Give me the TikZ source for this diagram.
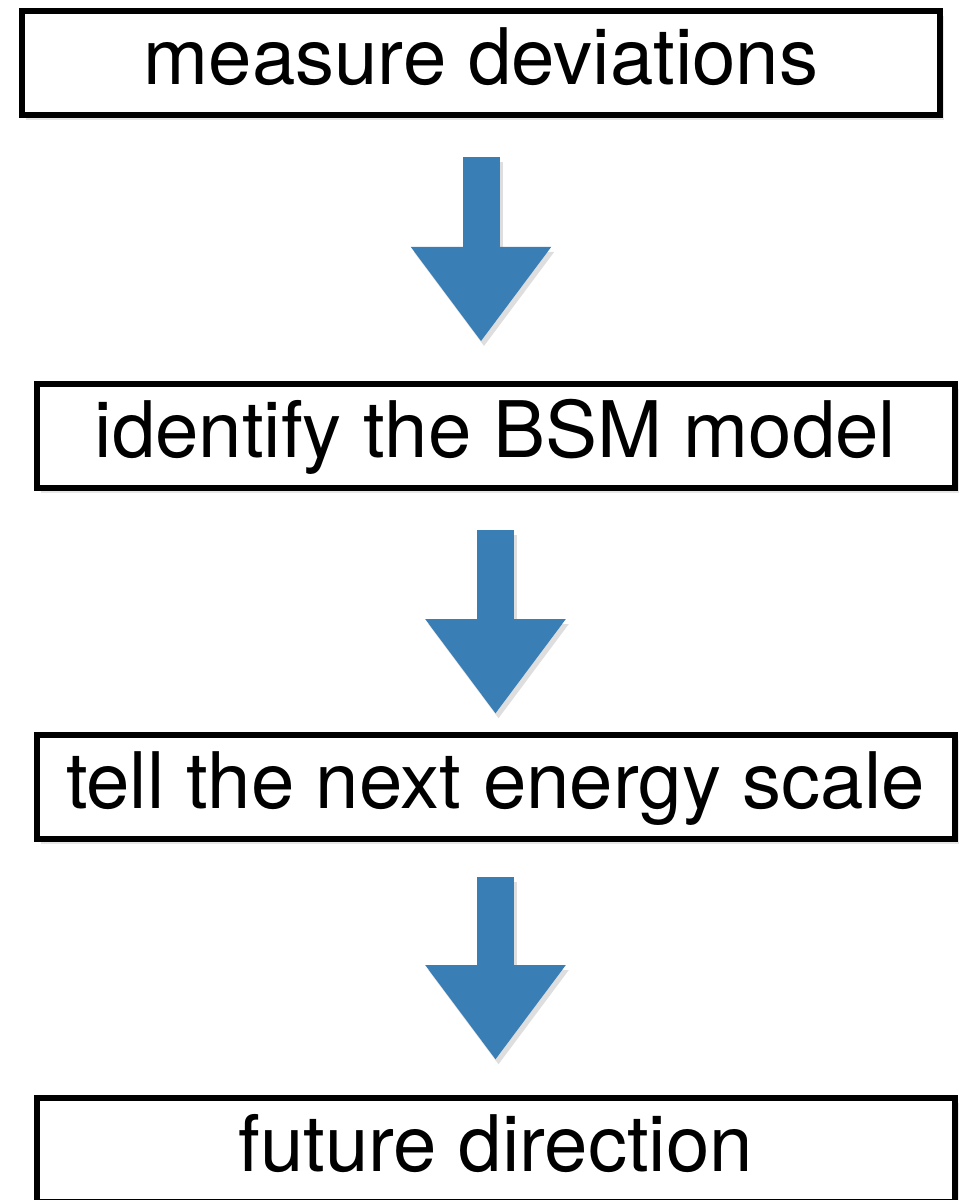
\documentclass[tikz,border=0pt]{standalone}
\usepackage{fontspec}
\setmainfont{TeX Gyre Heros}
\usetikzlibrary{arrows.meta,shadows,calc}
\definecolor{flowblue}{RGB}{58,126,182}
\tikzset{
  flow_box/.style = {rectangle, draw=black, line width=3pt, fill=white,
    minimum width=459pt, minimum height=52pt, inner sep=0pt, outer sep=0pt,
    text height=30.5pt, text depth=9pt, font=\fontsize{39}{45}\selectfont,
    drop shadow={shadow xshift=2pt, shadow yshift=-2.5pt, opacity=0.2}},% cadre d'etape
  flow_arrow/.style = {draw=flowblue, line width=18.5pt,
    -{Triangle[length=47.5pt, width=67pt]}},% grosse fleche bleue
  flow_shadow/.style = {flow_arrow, draw=black!13,
    transform canvas={shift={(1.5pt,-2.5pt)}}}% ombre de la fleche
}

\begin{document}
\begin{tikzpicture}[x=0.5pt, y=-0.5pt]
\clip (0,0) rectangle (968,1200);
\node [flow_box] (b1) at (481,62.75)   {measure deviations};
\node [flow_box] (b2) at (495.5,436.25) {identify the BSM model};
\node [flow_box] (b3) at (495.5,786.5)  {tell the next energy scale};
\node [flow_box] (b4) at (495.5,1149.5) {future direction};
% fleches entre les etapes
\foreach \from/\to/\top/\tip in {b1/b2/21/21.25, b2/b3/21/10.25, b3/b4/19.25/18.75}{
  \draw [flow_shadow] ($(\from.south)+(0pt,-\top pt)$)
    -- ($(\from.south |- \to.north)+(0pt,\tip pt)$);
  \draw [flow_arrow] ($(\from.south)+(0pt,-\top pt)$)
    -- ($(\from.south |- \to.north)+(0pt,\tip pt)$);
}
\end{tikzpicture}
\end{document}
